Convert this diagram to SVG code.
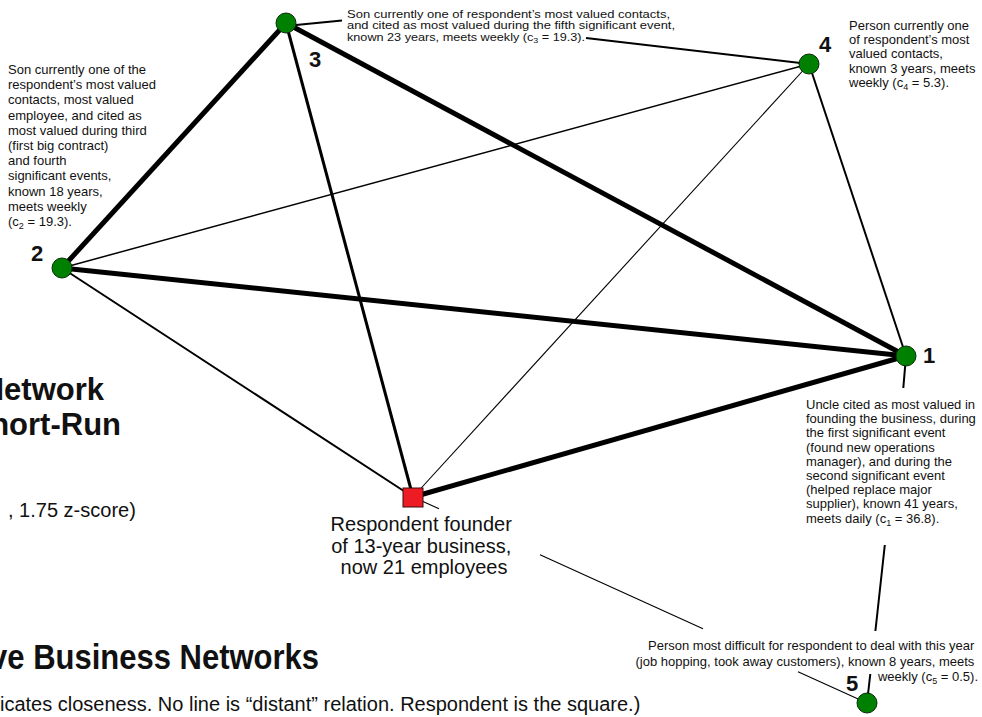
<svg xmlns="http://www.w3.org/2000/svg" width="982" height="717" viewBox="0 0 982 717">
<style>
.e{stroke:#000;fill:none;stroke-linecap:butt}
.w5{stroke-width:5}
.w3{stroke-width:3}
.w2{stroke-width:2}
.w15{stroke-width:1.5}
.w1{stroke-width:1.1}
.n{fill:#008000;stroke:#0b2b0b;stroke-width:1}
.sq{fill:#ed1c24;stroke:#3a0a0a;stroke-width:1}
text{font-family:"Liberation Sans",Arial,Helvetica,sans-serif;fill:#111}
.t{font-size:13px}
.t3{font-size:11.5px}
.num{font-size:22px;font-weight:bold}
.mid{font-size:20px}
.big{font-size:31px;font-weight:bold}
</style>
<rect width="982" height="717" fill="#fff"/>
<g id="titles">
  <text class="big" x="104" y="400" text-anchor="end">Network</text>
  <text class="big" x="121" y="435" text-anchor="end">hort-Run</text>
  <text class="mid" x="8" y="517" font-size="21.5">, 1.75 z-score)</text>
  <text class="big" transform="translate(319,669) scale(1,1.15)" x="0" y="0" text-anchor="end">ve Business Networks</text>
  <text class="mid" x="0" y="711" font-size="20.5">icates closeness. No line is “distant” relation. Respondent is the square.)</text>
</g>
<g id="connectors">
  <line class="e w5" x1="286" y1="23" x2="62" y2="268"/>
  <line class="e w5" x1="286" y1="23" x2="906" y2="356"/>
  <line class="e w3" x1="286" y1="23" x2="413" y2="497"/>
  <line class="e w5" x1="62" y1="268" x2="906" y2="356"/>
  <line class="e w2" x1="62" y1="268" x2="413" y2="497"/>
  <line class="e w15" x1="62" y1="268" x2="809" y2="64"/>
  <line class="e w1" x1="809" y1="64" x2="413" y2="497"/>
  <line class="e w2" x1="809" y1="64" x2="906" y2="356"/>
  <line class="e w5" x1="413" y1="497" x2="906" y2="356"/>
  <line class="e w2" x1="296" y1="25" x2="342" y2="20.5"/>
  <line class="e w2" x1="586" y1="38" x2="809" y2="64"/>
  <path class="e w2" d="M906,356 L903.3,388 M884.8,545 L875.4,631 M870.3,674 L867,703"/>
  <path class="e w1" d="M413,497 L439,508.8 M540,554.7 L703,628.7 M798,671.8 L867,703"/>
</g>
<g id="respondent">
  <rect class="sq" x="403" y="488" width="20" height="19"/>
  <text class="mid" text-anchor="middle">
    <tspan x="424" y="531">Respondent founder</tspan>
    <tspan x="424" y="552.5">of 13-year business,</tspan>
    <tspan x="424" y="574">now 21 employees</tspan>
  </text>
</g>
<g id="node1">
  <circle class="n" cx="906" cy="356" r="10"/>
  <text class="num" x="923" y="363">1</text>
  <text class="t">
    <tspan x="806" y="409">Uncle cited as most valued in</tspan>
    <tspan x="806" y="423.2">founding the business, during</tspan>
    <tspan x="806" y="437.4">the first significant event</tspan>
    <tspan x="806" y="451.6">(found new operations</tspan>
    <tspan x="806" y="465.8">manager), and during the</tspan>
    <tspan x="806" y="480">second significant event</tspan>
    <tspan x="806" y="494.2">(helped replace major</tspan>
    <tspan x="806" y="508.4">supplier), known 41 years,</tspan>
    <tspan x="806" y="522.6">meets daily (c<tspan font-size="9" dy="3">1</tspan><tspan dy="-3"> = 36.8).</tspan></tspan>
  </text>
</g>
<g id="node2">
  <circle class="n" cx="62" cy="268" r="10"/>
  <text class="num" x="31" y="261">2</text>
  <text class="t">
    <tspan x="8" y="74">Son currently one of the</tspan>
    <tspan x="8" y="89.2">respondent’s most valued</tspan>
    <tspan x="8" y="104.4">contacts, most valued</tspan>
    <tspan x="8" y="119.6">employee, and cited as</tspan>
    <tspan x="8" y="134.8">most valued during third</tspan>
    <tspan x="8" y="150">(first big contract)</tspan>
    <tspan x="8" y="165.2">and fourth</tspan>
    <tspan x="8" y="180.4">significant events,</tspan>
    <tspan x="8" y="195.6">known 18 years,</tspan>
    <tspan x="8" y="210.8">meets weekly</tspan>
    <tspan x="8" y="226">(c<tspan font-size="9" dy="3">2</tspan><tspan dy="-3"> = 19.3).</tspan></tspan>
  </text>
</g>
<g id="node3">
  <circle class="n" cx="286" cy="23" r="10"/>
  <text class="num" x="309" y="67">3</text>
  <text class="t3" x="347" y="17.5" textLength="323" lengthAdjust="spacingAndGlyphs">Son currently one of respondent’s most valued contacts,</text>
  <text class="t3" x="347" y="29" textLength="328" lengthAdjust="spacingAndGlyphs">and cited as most valued during the fifth significant event,</text>
  <text class="t3" x="347" y="40.5" textLength="238" lengthAdjust="spacingAndGlyphs">known 23 years, meets weekly (c<tspan font-size="8" dy="2.5">3</tspan><tspan dy="-2.5"> = 19.3).</tspan></text>
</g>
<g id="node4">
  <circle class="n" cx="809" cy="64" r="10"/>
  <text class="num" x="819" y="52">4</text>
  <text class="t">
    <tspan x="849" y="29.5">Person currently one</tspan>
    <tspan x="849" y="43.9">of respondent’s most</tspan>
    <tspan x="849" y="58.3">valued contacts,</tspan>
    <tspan x="849" y="72.7">known 3 years, meets</tspan>
    <tspan x="849" y="87.1">weekly (c<tspan font-size="9" dy="3">4</tspan><tspan dy="-3"> = 5.3).</tspan></tspan>
  </text>
</g>
<g id="node5">
  <circle class="n" cx="867" cy="703" r="10"/>
  <text class="num" x="846" y="691">5</text>
  <text class="t" text-anchor="end">
    <tspan x="978" y="650">Person most difficult for respondent to deal with this year</tspan>
    <tspan x="978" y="665.5">(job hopping, took away customers), known 8 years, meets</tspan>
    <tspan x="978" y="681">weekly (c<tspan font-size="9" dy="3">5</tspan><tspan dy="-3"> = 0.5).</tspan></tspan>
  </text>
</g>
</svg>
